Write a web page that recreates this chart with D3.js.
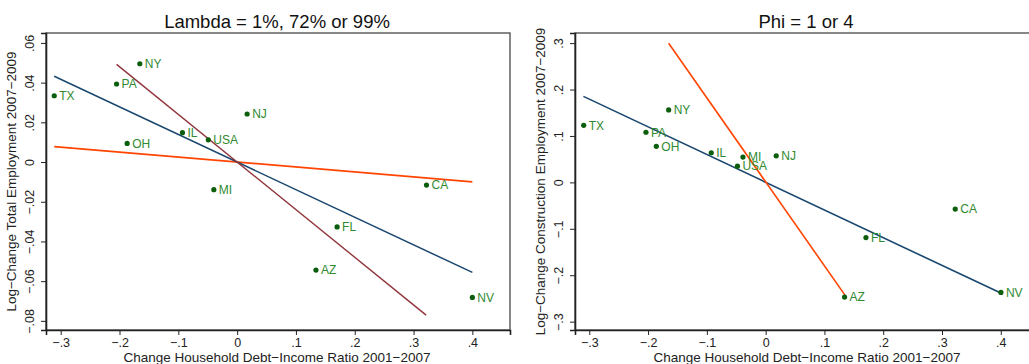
<!DOCTYPE html>
<html>
<head>
<meta charset="utf-8">
<script src="https://cdn.jsdelivr.net/npm/d3@7"></script>
<style>
  body { margin: 0; background: #fff; }
  svg text { font-family: "Liberation Sans", Arial, sans-serif; }
</style>
</head>
<body>
<svg id="chart" width="1029" height="364"></svg>
<script>
// data
const states = ["TX", "PA", "NY", "OH", "IL", "USA", "NJ", "MI", "CA", "FL", "AZ", "NV"];
const debtChange = [-0.311, -0.205, -0.1655, -0.187, -0.093, -0.049, 0.017, -0.0396, 0.322, 0.170, 0.134, 0.400];
const totalEmp = [0.0334, 0.0393, 0.0495, 0.0094, 0.0148, 0.0112, 0.0242, -0.0139, -0.0116, -0.0327, -0.0544, -0.0682];
const debtChangeC = [-0.3095, -0.2036, -0.165, -0.186, -0.0925, -0.048, 0.018, -0.0386, 0.3225, 0.1706, 0.1343, 0.4002];
const constrEmp = [0.123, 0.108, 0.156, 0.0776, 0.0638, 0.035, 0.0573, 0.0545, -0.0575, -0.119, -0.247, -0.237];

// fitted lines (endpoints)
const linesTotal = [
  { color: "#ff4500", w: 1.8, x: [-0.311, 0.4], y: [0.0078, -0.0100] },
  { color: "#1a476f", w: 1.5, x: [-0.311, 0.4], y: [0.0432, -0.0556] },
  { color: "#90353b", w: 1.4, x: [-0.205, 0.3214], y: [0.0492, -0.0771] }
];
const linesConstr = [
  { color: "#1a476f", w: 1.6, x: [-0.31, 0.4], y: [0.1853, -0.2385] },
  { color: "#ff4500", w: 1.6, x: [-0.165, 0.1349], y: [0.2996, -0.2428] }
];

const xTicks = [-0.3, -0.2, -0.1, 0, 0.1, 0.2, 0.3, 0.4];
const yTicksTotal = [-0.08, -0.06, -0.04, -0.02, 0, 0.02, 0.04, 0.06];
const yTicksConstr = [-0.3, -0.2, -0.1, 0, 0.1, 0.2, 0.3];

const svg = d3.select("#chart");

function fmt(v) {
  if (v === 0) return "0";
  return (v < 0 ? "\u2212" : "") + String(Math.abs(+v.toFixed(2))).replace(/^0/, "");
}

function drawPanel(opt) {
  const g = svg.append("g");
  const x = d3.scaleLinear().domain(opt.xDomain).range([opt.left, opt.right]);
  const y = d3.scaleLinear().domain(opt.yDomain).range([opt.bottom, opt.top]);

  // plot region frame
  g.append("rect")
    .attr("x", opt.left).attr("y", opt.top)
    .attr("width", opt.right - opt.left).attr("height", opt.bottom - opt.top)
    .attr("fill", "none").attr("stroke", "#555").attr("stroke-width", 1.4);

  // x axis
  const xAxis = g.append("g")
    .attr("transform", `translate(0,${opt.bottom})`)
    .call(d3.axisBottom(x).tickValues(xTicks).tickSize(5).tickPadding(3).tickFormat(fmt));
  xAxis.select(".domain").attr("stroke", "#222").attr("stroke-width", 1.6);
  xAxis.selectAll(".tick line").attr("stroke", "#222");
  xAxis.selectAll(".tick text").attr("font-size", 12.5).attr("fill", "#222");

  // y axis, vertical labels
  const yAxis = g.append("g")
    .attr("transform", `translate(${opt.left},0)`)
    .call(d3.axisLeft(y).tickValues(opt.yTicks).tickSize(5).tickFormat(fmt));
  yAxis.select(".domain").attr("stroke", "#222").attr("stroke-width", 1.6);
  yAxis.selectAll(".tick line").attr("stroke", "#222");
  yAxis.selectAll(".tick text")
    .attr("font-size", 12.5).attr("fill", "#222")
    .attr("x", null).attr("dy", null)
    .attr("text-anchor", "middle")
    .attr("transform", "translate(-12,0) rotate(-90)");

  // fitted lines
  opt.lines.forEach(l => {
    g.append("line")
      .attr("x1", x(l.x[0])).attr("y1", y(l.y[0]))
      .attr("x2", x(l.x[1])).attr("y2", y(l.y[1]))
      .attr("stroke", l.color).attr("stroke-width", l.w);
  });

  // points + labels
  const pts = g.selectAll(".pt").data(states).enter().append("g").attr("class", "pt");
  pts.append("circle")
    .attr("cx", (d, i) => x(opt.xs[i])).attr("cy", (d, i) => y(opt.ys[i]))
    .attr("r", 2.6).attr("fill", "#0b5e0b");
  pts.append("text")
    .attr("x", (d, i) => x(opt.xs[i]) + 5).attr("y", (d, i) => y(opt.ys[i]))
    .attr("dy", "0.36em").attr("font-size", 12).attr("fill", "#2f8a2f")
    .text(d => d);

  // titles
  g.append("text")
    .attr("x", opt.titleX).attr("y", 28)
    .attr("text-anchor", "middle").attr("font-size", 18.5).attr("fill", "#111")
    .text(opt.title);
  g.append("text")
    .attr("x", opt.xTitleX).attr("y", 362)
    .attr("text-anchor", "middle").attr("font-size", 13.5).attr("fill", "#222")
    .text("Change Household Debt\u2212Income Ratio 2001\u22122007");
  g.append("text")
    .attr("transform", `translate(${opt.left - 30},${(opt.top + opt.bottom) / 2}) rotate(-90)`)
    .attr("text-anchor", "middle").attr("font-size", 13.5).attr("fill", "#222")
    .text(opt.yTitle);
}

drawPanel({
  left: 46, right: 510, top: 33, bottom: 330, titleX: 277, xTitleX: 277,
  xDomain: [-0.325, 0.464], yDomain: [-0.0846, 0.065],
  yTicks: yTicksTotal, xs: debtChange, ys: totalEmp, lines: linesTotal,
  title: "Lambda = 1%, 72% or 99%",
  yTitle: "Log\u2212Change Total Employment 2007\u22122009"
});

drawPanel({
  left: 575, right: 1039, top: 33, bottom: 330, titleX: 806, xTitleX: 807,
  xDomain: [-0.3243, 0.465], yDomain: [-0.318, 0.3218],
  yTicks: yTicksConstr, xs: debtChangeC, ys: constrEmp, lines: linesConstr,
  title: "Phi = 1 or 4",
  yTitle: "Log\u2212Change Construction Employment 2007\u22122009"
});
</script>
</body>
</html>
